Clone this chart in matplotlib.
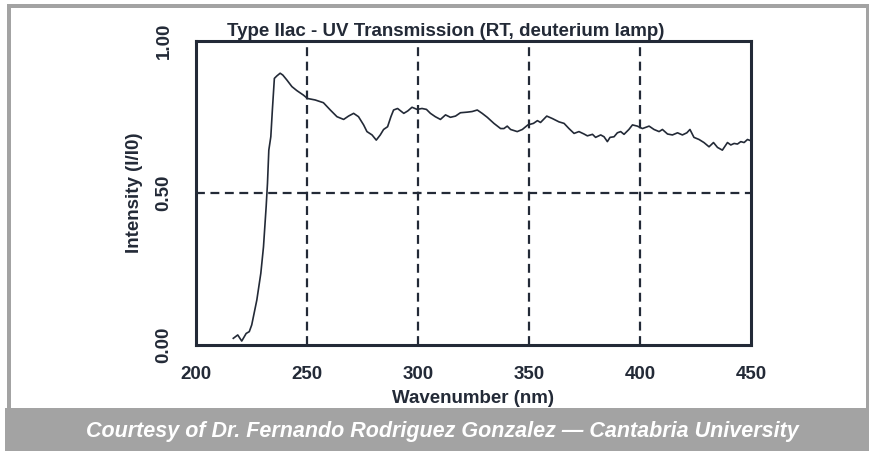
import matplotlib
matplotlib.use("Agg")
import matplotlib.pyplot as plt
from matplotlib.patches import Rectangle

# UV transmission spectrum
wavelength_nm = [216.8, 218.8, 220.6, 222.6, 224.0, 225.1, 227.4, 229.2, 230.4, 231.6,
                 232.2, 232.8, 233.7, 234.4, 235.3, 236.4, 237.9, 239.1, 240.9, 243.2,
                 245.4, 248.4, 250.2, 253.7, 257.4, 260.5, 263.5, 266.5, 268.7, 271.0,
                 273.2, 275.5, 277.0, 279.3, 281.2, 283.0, 284.5, 286.3, 287.8, 289.0,
                 290.8, 293.6, 295.4, 297.3, 299.6, 301.8, 303.8, 305.6, 307.8, 310.1,
                 312.4, 314.6, 316.9, 319.1, 322.2, 324.4, 326.7, 328.9, 331.2, 334.2,
                 337.2, 338.7, 340.2, 341.7, 344.7, 347.0, 349.5, 352.0, 353.8, 355.2,
                 358.0, 360.5, 363.5, 365.8, 368.0, 370.3, 372.5, 374.8, 376.3, 378.6,
                 380.0, 382.3, 383.8, 385.3, 386.5, 388.3, 389.8, 391.3, 392.8, 395.0,
                 396.6, 398.8, 401.1, 404.1, 406.3, 408.6, 410.1, 412.4, 414.6, 416.9,
                 419.1, 421.1, 422.5, 424.3, 426.6, 428.8, 431.1, 433.1, 434.9, 437.1,
                 439.4, 440.9, 442.4, 443.9, 445.4, 446.9, 448.4, 449.9]
intensity = [0.022, 0.033, 0.013, 0.038, 0.044, 0.066, 0.148, 0.236, 0.323, 0.455,
             0.532, 0.641, 0.685, 0.773, 0.877, 0.885, 0.894, 0.888, 0.872, 0.850,
             0.837, 0.822, 0.811, 0.806, 0.797, 0.773, 0.751, 0.742, 0.753, 0.762,
             0.751, 0.724, 0.702, 0.691, 0.674, 0.691, 0.709, 0.718, 0.751, 0.773,
             0.778, 0.762, 0.770, 0.782, 0.775, 0.778, 0.775, 0.762, 0.751, 0.742,
             0.757, 0.749, 0.753, 0.764, 0.766, 0.768, 0.773, 0.762, 0.749, 0.729,
             0.712, 0.712, 0.720, 0.709, 0.702, 0.709, 0.724, 0.729, 0.738, 0.732,
             0.753, 0.745, 0.734, 0.729, 0.712, 0.696, 0.702, 0.694, 0.688, 0.693,
             0.683, 0.691, 0.685, 0.669, 0.683, 0.685, 0.698, 0.702, 0.693, 0.709,
             0.724, 0.720, 0.712, 0.720, 0.709, 0.702, 0.709, 0.694, 0.691, 0.698,
             0.691, 0.698, 0.709, 0.683, 0.676, 0.666, 0.652, 0.666, 0.650, 0.641,
             0.666, 0.658, 0.663, 0.661, 0.669, 0.666, 0.676, 0.672]

x_ticks = [200, 250, 300, 350, 400, 450]
y_ticks = [0.0, 0.5, 1.0]
y_tick_labels = ["0.00", "0.50", "1.00"]
x_grid = [250, 300, 350, 400]
y_grid = [0.5]

INK = "#232a37"
FRAME = "#a3a3a3"
FONT = ["Liberation Sans Narrow", "Liberation Sans", "DejaVu Sans"]

plt.rcParams["font.family"] = FONT

W, H = 870, 451
fig = plt.figure(figsize=(W / 100, H / 100), dpi=100)
fig.patch.set_facecolor("white")

# grey frame and footer band
def px_rect(x0, y0, x1, y1, color):
    fig.patches.append(Rectangle((x0 / W, 1 - y1 / H), (x1 - x0) / W, (y1 - y0) / H,
                                 transform=fig.transFigure, facecolor=color,
                                 edgecolor="none", zorder=0))

px_rect(7, 4, 870, 8, FRAME)
px_rect(7, 4, 11, 408, FRAME)
px_rect(866, 4, 870, 408, FRAME)
px_rect(5, 408, 870, 451, FRAME)

ax = fig.add_axes([196 / W, 1 - 345 / H, (751 - 196) / W, (345 - 41) / H])
ax.plot(wavelength_nm, intensity, color=INK, lw=1.2, zorder=3)

for g in x_grid:
    ax.axvline(g, color=INK, lw=1.6, ls=(0, (4, 2.5)), zorder=2)
for g in y_grid:
    ax.axhline(g, color=INK, lw=1.6, ls=(0, (4, 2.5)), zorder=2)

ax.set_xlim(200, 450)
ax.set_ylim(0, 1)
ax.set_xticks(x_ticks)
ax.set_yticks(y_ticks)
ax.set_yticklabels(y_tick_labels, rotation=90, va="center")
ax.tick_params(length=0, colors=INK, labelsize=13.5)
ax.tick_params(axis="x", pad=15)
ax.tick_params(axis="y", pad=17)
for lab in ax.get_xticklabels() + ax.get_yticklabels():
    lab.set_fontweight("bold")
for s in ax.spines.values():
    s.set_color(INK)
    s.set_linewidth(2.2)

ax.set_xlabel("Wavenumber (nm)", fontsize=13.5, fontweight="bold", color=INK, labelpad=5)
ax.set_ylabel("Intensity (I/I0)", fontsize=13.5, fontweight="bold", color=INK, labelpad=9)
fig.text(446 / W, 1 - 31 / H, "Type IIac - UV Transmission (RT, deuterium lamp)",
         ha="center", va="center", fontsize=13.5, fontweight="bold", color=INK)

fig.text(442 / W, 1 - 431 / H,
         "Courtesy of Dr. Fernando Rodriguez Gonzalez \u2014 Cantabria University",
         ha="center", va="center", fontsize=15.5, fontweight="bold", style="italic",
         color="white")

fig.savefig("out.png", dpi=100, facecolor="white")
